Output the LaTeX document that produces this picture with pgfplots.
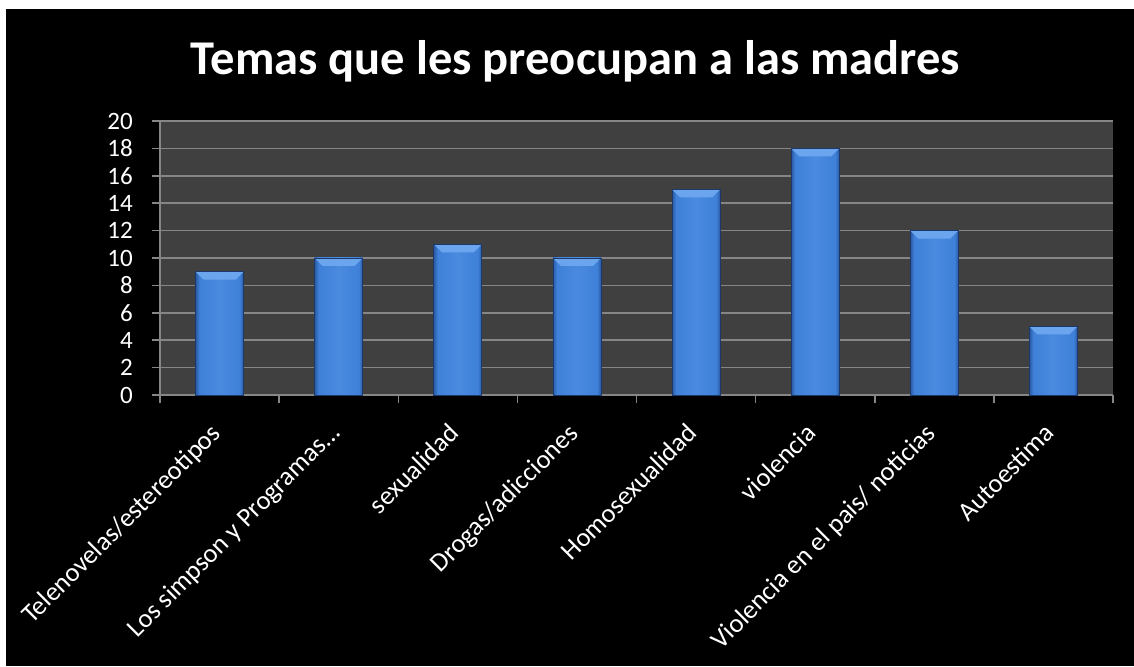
\documentclass[border=0pt]{standalone}
\usepackage{fontspec}
\setmainfont{Carlito}
\usepackage{pgfplots}
\pgfplotsset{compat=1.18}
\definecolor{plotbg}{HTML}{404040}
\definecolor{gridc}{HTML}{868686}
\definecolor{barmid}{HTML}{3F80D8}
\definecolor{barlight}{HTML}{4A8BE0}
\definecolor{baredge}{HTML}{2A5AA2}
\definecolor{barline}{HTML}{1B3A6B}
\definecolor{bevel}{HTML}{6AA5EE}
\pgfdeclarehorizontalshading{barshade}{100bp}{color(0bp)=(baredge); color(25bp)=(baredge); color(29bp)=(barmid); color(50bp)=(barlight); color(71bp)=(barmid); color(75bp)=(baredge); color(100bp)=(baredge)}
\pgfplotsset{
  mybar/.style={ybar, bar width=48pt, bar shift=0pt, draw=barline, line width=0.8pt, shade, shading=barshade,
    path picture={%
      \pgfsetfillcolor{bevel}%
      \pgfpathmoveto{\pgfpointanchor{path picture bounding box}{north west}}%
      \pgfpathlineto{\pgfpointanchor{path picture bounding box}{north east}}%
      \pgfpathlineto{\pgfpointadd{\pgfpointanchor{path picture bounding box}{north east}}{\pgfpoint{-8pt}{-8pt}}}%
      \pgfpathlineto{\pgfpointadd{\pgfpointanchor{path picture bounding box}{north west}}{\pgfpoint{8pt}{-8pt}}}%
      \pgfpathclose
      \pgfusepath{fill}%
    }},
}
\begin{document}
\begin{tikzpicture}
\fill[white] (0,0) rectangle (1134pt,666pt);
\fill[black] (6pt,0) rectangle (1134pt,657pt);
\node[anchor=base, text=white, font=\fontsize{48.5}{58}\selectfont\bfseries] at (575.5pt,591pt) {Temas que les preocupan a las madres};
\begin{axis}[
  at={(160pt,271pt)}, anchor=south west,
  scale only axis, width=953pt, height=274pt,
  xmin=0, xmax=8, ymin=0, ymax=20,
  axis background/.style={fill=plotbg},
  axis x line*=bottom, axis y line*=left,
  axis line style={draw=gridc, line width=1.5pt},
  ytick={0,2,...,20},
  ymajorgrids, grid style={draw=gridc, line width=1.5pt},
  xtick={0.5,1.5,...,7.5},
  xticklabels={Telenovelas/estereotipos, Los simpson y Programas…, sexualidad, Drogas/adicciones, Homosexualidad, violencia, Violencia en el pais/ noticias, Autoestima},
  minor xtick={0,...,8},
  tick align=outside,
  major tick length=8pt, minor tick length=8pt,
  major x tick style={draw=none},
  tick style={draw=gridc, line width=1.5pt},
  /pgf/number format/assume math mode=true,
  yticklabel style={anchor=east, inner sep=0pt, xshift=-19pt, text=white, font=\fontsize{25}{30}\selectfont},
  xticklabel style={xshift=-10.5pt, yshift=-18.5pt, rotate=45, anchor=north east, inner sep=0pt, text=white, font=\fontsize{26.5}{32}\selectfont},
  clip=false,
]
\addplot[mybar] coordinates {(0.5,9)};
\addplot[mybar] coordinates {(1.5,10)};
\addplot[mybar] coordinates {(2.5,11)};
\addplot[mybar] coordinates {(3.5,10)};
\addplot[mybar] coordinates {(4.5,15)};
\addplot[mybar] coordinates {(5.5,18)};
\addplot[mybar] coordinates {(6.5,12)};
\addplot[mybar] coordinates {(7.5,5)};
\end{axis}
\pgfresetboundingbox
\useasboundingbox (0,0) rectangle (1134pt,666pt);
\end{tikzpicture}
\end{document}
